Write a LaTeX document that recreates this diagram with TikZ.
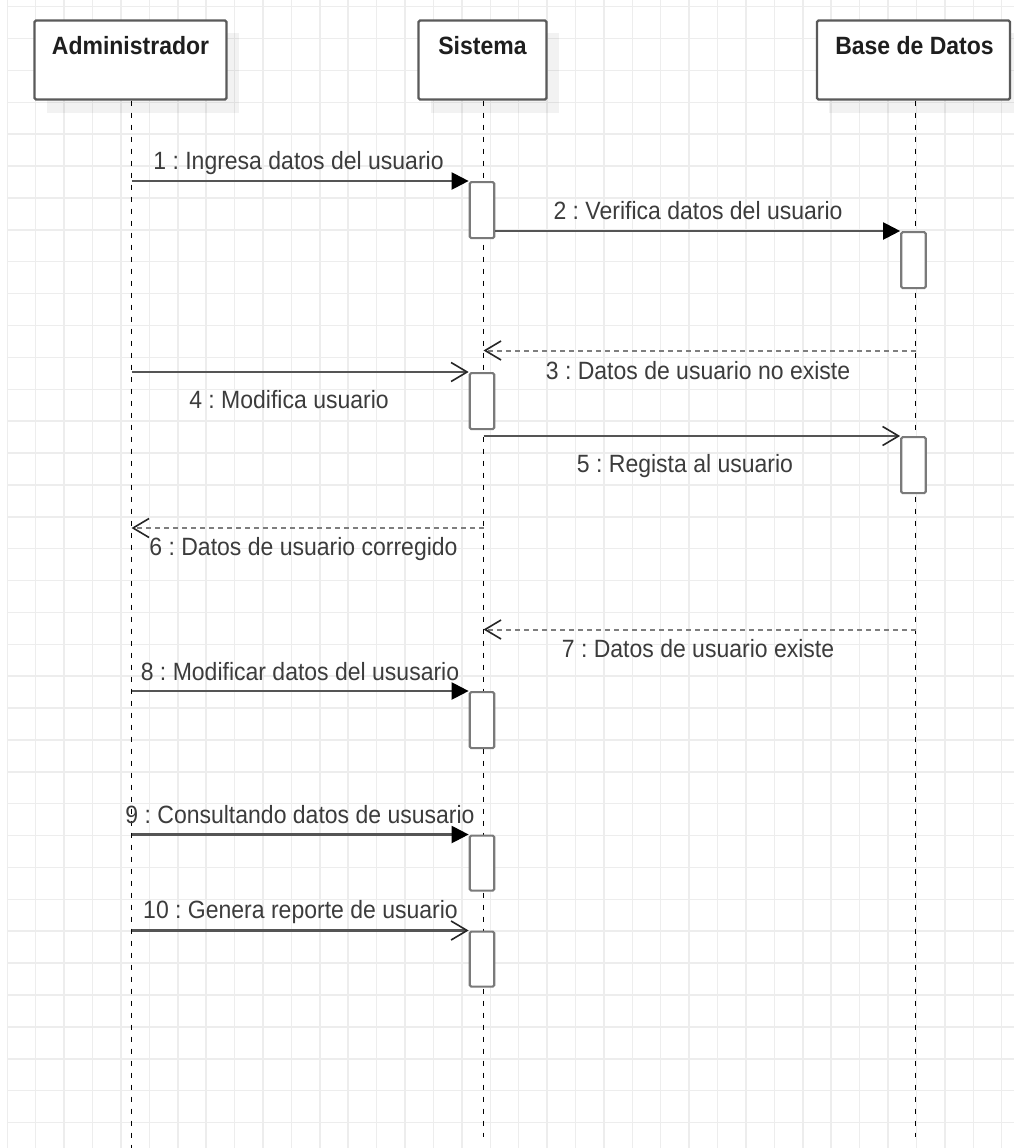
\documentclass[tikz,border=0pt]{standalone}
\usepackage{fontspec}
\setmainfont{Liberation Sans}[FakeStretch=0.92]
\usetikzlibrary{arrows.meta}
\frenchspacing

\definecolor{gridc}{HTML}{EDEDED}
\definecolor{framec}{HTML}{5A5A5A}
\definecolor{actc}{HTML}{7A7A7A}
\definecolor{msgc}{HTML}{555555}
\definecolor{retc}{HTML}{7E7E7E}
\definecolor{labc}{HTML}{3C3C3C}
\definecolor{titlec}{HTML}{1E1E1E}

\tikzset{
  gridline/.style={draw=gridc, line width=1.5pt},
  actorbox/.style={draw=framec, fill=white, line width=2.2pt, rounded corners=1.5pt,
    minimum width=192pt, minimum height=79pt, inner sep=0pt},
  boxshadow/.style={fill=black, opacity=0.05},
  actortitle/.style={text=titlec, font=\fontsize{25}{29}\selectfont\bfseries, anchor=base, inner sep=0pt},
  lifeline/.style={draw=black, line width=1.7pt, dash pattern=on 5pt off 7pt},
  activation/.style={draw=actc, fill=white, line width=2.2pt, rounded corners=1.5pt,
    minimum width=24.5pt, inner sep=0pt},
  call/.style={draw=msgc, line width=2.2pt, -{Triangle[length=17pt,width=17pt,fill=black,color=black]}},
  async/.style={draw=msgc, line width=2.2pt, -{Straight Barb[length=16pt,width=19pt,line width=1.6pt,color=black!85]}},
  reply/.style={draw=retc, line width=2pt, dash pattern=on 5pt off 4pt,
    -{Straight Barb[length=16pt,width=19pt,line width=1.6pt,color=black!85]}},
  msglabel/.style={text=labc, font=\fontsize{25}{29}\selectfont, anchor=base, inner sep=0pt}
}

\begin{document}
\begin{tikzpicture}[x=1pt,y=-1pt]
  \useasboundingbox (0,0) rectangle (1014,1148);
  \fill[white] (0,0) rectangle (1014,1148);

  % background grid
  \begin{scope}
    \clip (0,0) rectangle (1014,1148);
    \foreach \i in {0,...,35} {
      \draw[gridline] ({7.3+28.41*\i},0) -- ({7.3+28.41*\i},1148);
      \draw[gridline] (7.3,{6.7+31.88*\i}) -- (1014,{6.7+31.88*\i});
    }
  \end{scope}

  % participant shadows
  \fill[boxshadow] (46.5,33) rectangle (239,113);
  \fill[boxshadow] (430.5,33) rectangle (559,113);
  \fill[boxshadow] (829,33) rectangle (1014,113);

  % participants
  \node[actorbox] (adm) at (130.5,60) {};
  \node[actorbox, minimum width=128pt] (sis) at (482.5,60) {};
  \node[actorbox, minimum width=193pt] (bd) at (913.5,60) {};
  \node[actortitle] (admT) at (130.5,55) {Administrador};
  \node[actortitle] (sisT) at (482.5,55) {Sistema};
  \node[actortitle] (bdT) at (914.5,55) {Base de Datos};

  % lifeline ends
  \coordinate (admEnd) at (131.5,1148);
  \coordinate (sisEnd) at (483.5,1137);
  \coordinate (bdEnd) at (915.5,1137);
  \draw[lifeline] (adm.south -| admEnd) -- (admEnd);
  \draw[lifeline] (sis.south -| sisEnd) -- (sisEnd);
  \draw[lifeline] (bd.south -| bdEnd) -- (bdEnd);

  % activation bars
  \node[activation, minimum height=56pt, anchor=north] (s1) at (482,181) {};
  \node[activation, minimum height=56pt, anchor=north] (b1) at (913.5,231) {};
  \node[activation, minimum height=56pt, anchor=north] (s2) at (482,372) {};
  \node[activation, minimum height=56pt, anchor=north] (b2) at (913.5,436) {};
  \node[activation, minimum height=56pt, anchor=north] (s3) at (482,691) {};
  \node[activation, minimum height=55pt, anchor=north] (s4) at (482,834.5) {};
  \node[activation, minimum height=55pt, anchor=north] (s5) at (482,930.5) {};

  % points on the lifelines
  \coordinate (a1) at (131.5,181);
  \coordinate (a4) at (131.5,372);
  \coordinate (a6) at (131.5,528);
  \coordinate (a8) at (131.5,691);
  \coordinate (a9) at (131.5,834.5);
  \coordinate (a10) at (131.5,930.5);
  \coordinate (q3) at (915.5,350.5);
  \coordinate (p3) at (483.5,350.5);
  \coordinate (p5) at (483.5,436);
  \coordinate (p6) at (483.5,528);
  \coordinate (q7) at (915.5,629.5);
  \coordinate (p7) at (483.5,629.5);

  % messages
  \draw[call] (a1) -- (s1.north west);
  \draw[call] (s1.east |- b1.north) -- (b1.north west);
  \draw[reply] (q3) -- (p3);
  \draw[async] (a4) -- (s2.north west);
  \draw[async] (p5) -- (b2.north west);
  \draw[reply] (p6) -- (a6);
  \draw[reply] (q7) -- (p7);
  \draw[call] (a8) -- (s3.north west);
  \draw[call] (a9) -- (s4.north west);
  \draw[async] (a10) -- (s5.north west);

  % message labels
  \node[msglabel] (l1) at (298.5,169.5) {1 : Ingresa datos del usuario};
  \node[msglabel] (l2) at (698,219.5) {2 : Verifica datos del usuario};
  \node[msglabel] (l3) at (698,379.5) {3 : Datos de usuario no existe};
  \node[msglabel] (l4) at (289,408.5) {4 : Modifica usuario};
  \node[msglabel] (l5) at (685,472.5) {5 : Regista al usuario};
  \node[msglabel] (l6) at (303.5,555.5) {6 : Datos de usuario corregido};
  \node[msglabel] (l7) at (698,657.5) {7 : Datos de usuario existe};
  \node[msglabel] (l8) at (300,680) {8 : Modificar datos del ususario};
  \node[msglabel] (l9) at (300,823.5) {9 : Consultando datos de ususario};
  \node[msglabel] (l10) at (300.5,918.5) {10 : Genera reporte de usuario};
\end{tikzpicture}
\end{document}
